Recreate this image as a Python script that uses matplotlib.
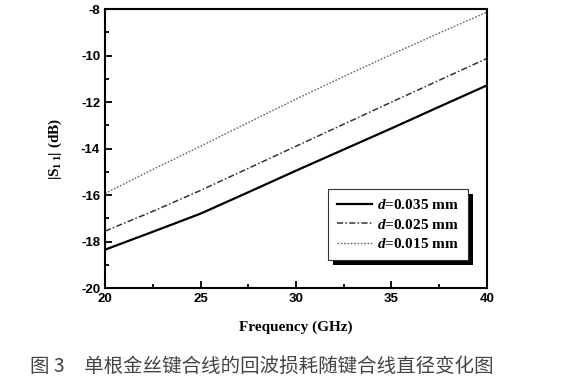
import matplotlib
matplotlib.use("Agg")
import matplotlib.pyplot as plt
from matplotlib.patches import Rectangle
from matplotlib.ticker import MultipleLocator

freq = [20, 22.5, 25, 27.5, 30, 32.5, 35, 37.5, 40]
s11_035 = [-18.35, -17.58, -16.8, -15.88, -14.95, -14.04, -13.13, -12.2, -11.28]
s11_025 = [-17.55, -16.7, -15.8, -14.85, -13.9, -12.95, -12.0, -11.06, -10.12]
s11_015 = [-15.93, -14.9, -13.9, -12.88, -11.87, -10.9, -9.95, -9.03, -8.13]
labels = ["0.035 mm", "0.025 mm", "0.015 mm"]

plt.rcParams["axes.unicode_minus"] = False
plt.rcParams["mathtext.fontset"] = "custom"
plt.rcParams["mathtext.bfit"] = "Liberation Serif:italic:bold"
plt.rcParams["mathtext.bf"] = "Liberation Serif:bold"

fig = plt.figure(figsize=(5.77, 3.8), dpi=100)
ax = fig.add_axes([0.182, 0.242, 0.662, 0.734])

ax.plot(freq, s11_035, color="black", lw=1.6, ls="-", label=labels[0])
ax.plot(freq, s11_025, color="#333333", lw=1.1, ls=(0, (4, 1.5, 1, 1.5)), label=labels[1])
ax.plot(freq, s11_015, color="#666666", lw=1.0, ls=(0, (1.2, 1.2)), label=labels[2])

ax.set_xlim(20, 40)
ax.set_ylim(-20, -8)
ax.xaxis.set_major_locator(MultipleLocator(5))
ax.xaxis.set_minor_locator(MultipleLocator(2.5))
ax.yaxis.set_major_locator(MultipleLocator(2))
ax.yaxis.set_minor_locator(MultipleLocator(1))
ax.tick_params(which="both", direction="in", width=1.3)
ax.tick_params(which="major", length=5)
ax.tick_params(which="minor", length=3)
for lab in ax.get_xticklabels() + ax.get_yticklabels():
    lab.set_fontfamily("Liberation Sans")
    lab.set_fontweight("bold")
    lab.set_fontsize(9.5)
for s in ax.spines.values():
    s.set_linewidth(1.5)

ax.set_xlabel("Frequency (GHz)", fontfamily="Liberation Serif", fontweight="bold",
              fontsize=11, labelpad=11)
ax.set_ylabel(r"|S$_{\mathbf{1\,1}}$| (dB)", fontfamily="Liberation Serif", fontweight="bold",
              fontsize=11, labelpad=12)

leg_labels = [r"$\mathbfit{d}$=" + l for l in labels]
leg = ax.legend(ax.get_lines(), leg_labels, loc="lower right", bbox_to_anchor=(0.95, 0.10),
                frameon=True, fancybox=False, edgecolor="#333333", framealpha=1,
                prop={"family": "Liberation Serif", "weight": "bold", "size": 11},
                handlelength=2.3, handletextpad=0.3, labelspacing=0.35, borderpad=0.6,
                borderaxespad=0)
leg.get_frame().set_linewidth(0.8)
leg.set_zorder(5)

fig.canvas.draw()
bb = leg.get_window_extent()
shadow = Rectangle((bb.x0 + 5, bb.y0 - 5), bb.width, bb.height, transform=None,
                   facecolor="black", edgecolor="none", zorder=4)
ax.add_artist(shadow)
shadow.set_clip_on(False)

fig.text(0.052, 0.022, "图 3　单根金丝键合线的回波损耗随键合线直径变化图",
         fontfamily=["Noto Sans CJK SC", "DejaVu Sans"], fontsize=14, color="#444444")

fig.savefig("out.png", dpi=100)
